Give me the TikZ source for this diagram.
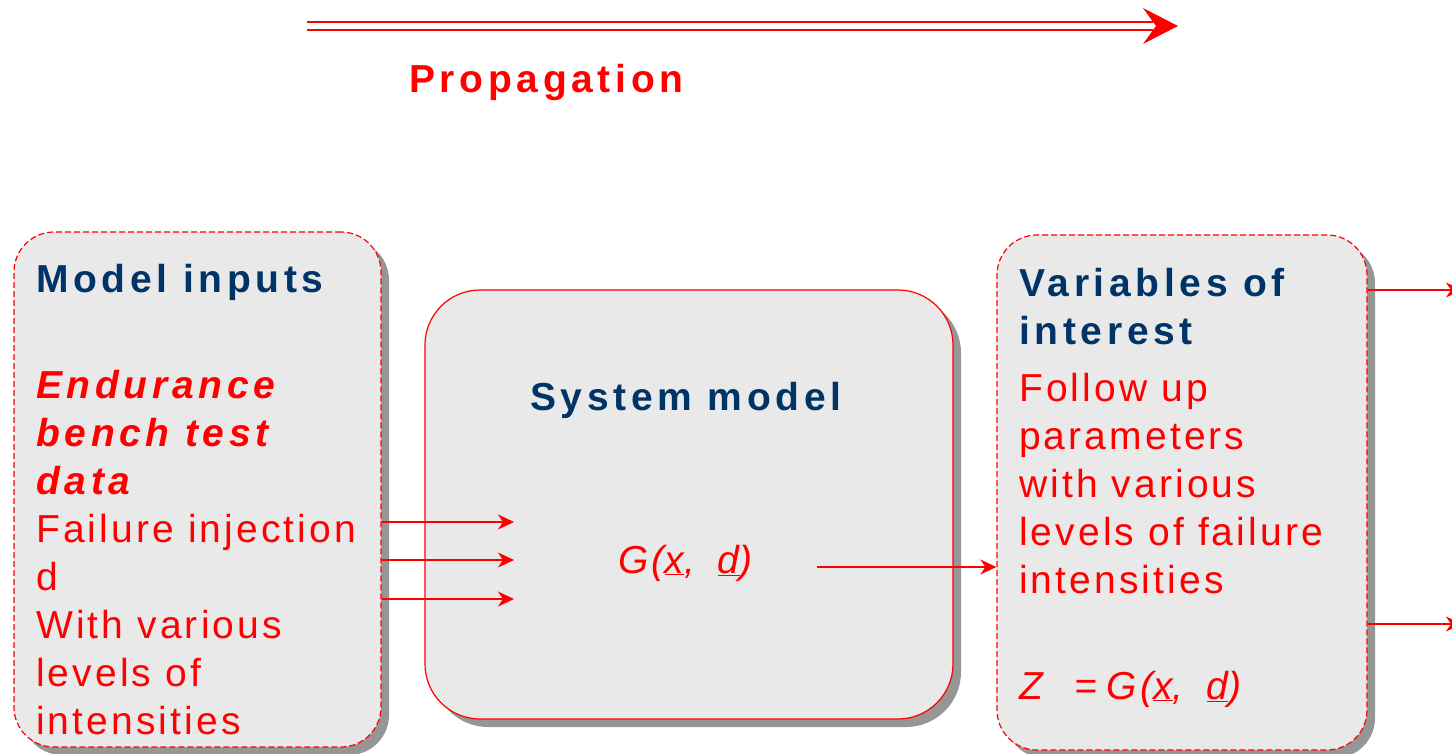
\documentclass[tikz,border=0pt]{standalone}
\usepackage{fontspec}
\setmainfont{Liberation Sans}
\newfontfamily\regls{Liberation Sans}[LetterSpace=8]
\newfontfamily\boldls{Liberation Sans}[LetterSpace=12]
\usetikzlibrary{arrows.meta,shadows}
\definecolor{myred}{RGB}{255,0,0}
\definecolor{navy}{RGB}{0,51,102}
\definecolor{boxgray}{RGB}{233,233,233}
\definecolor{shadowgray}{RGB}{150,150,150}
\newcommand\gxd{G(\underline{x}, \hspace{9pt}\underline{d})}
\begin{document}
\begin{tikzpicture}[x=1pt,y=-1pt,
  box/.style={fill=boxgray, draw=myred, line width=1.2pt, inner sep=0pt,
    drop shadow={shadow xshift=8pt, shadow yshift=-8pt, fill=shadowgray, opacity=1}},
  dbox/.style={box, dash pattern=on 6pt off 3pt},
  txt/.style={inner sep=0pt, anchor=base west, text=myred,
    font=\regls\fontsize{39}{47}\selectfont},
  itx/.style={inner sep=0pt, anchor=base west, text=myred,
    font=\regls\itshape\fontsize{39}{47}\selectfont},
  hdr/.style={inner sep=0pt, anchor=base west, text=navy,
    font=\boldls\bfseries\fontsize{39}{47}\selectfont},
  emp/.style={inner sep=0pt, anchor=base west, text=myred,
    font=\boldls\bfseries\itshape\fontsize{39}{47}\selectfont},
  arr/.style={draw=myred, line width=1.3pt, -{Stealth[length=16pt,width=15pt,inset=5pt]}}
]
\useasboundingbox (0,0) rectangle (1452,754);

% propagation arrow
\coordinate (ps) at (307,26);
\coordinate (pe) at (1153,26);
\draw[myred, double=white, double distance=5.3pt, line width=2.7pt] (ps) -- (pe);
\fill[myred] (1143,8) -- (1178,26) -- (1143,44) -- (1156,26) -- cycle;
\node[emp, font=\boldls\bfseries\fontsize{39}{47}\selectfont] (prop) at (409,93) {Propagation};

% boxes
\node[dbox, rounded corners=40pt, minimum width=367pt, minimum height=515pt] (inbox) at (197.5,489.5) {};
\node[box, rounded corners=55pt, minimum width=528pt, minimum height=429pt] (sbox) at (689,504.5) {};
\node[dbox, rounded corners=40pt, minimum width=370pt, minimum height=515pt] (vbox) at (1182,492.5) {};

% left box text
\node[hdr] (l0) at (36,293) {Model inputs};
\node[emp] (l1) at (36,398) {Endurance};
\node[emp] (l2) at (36,446) {bench test};
\node[emp] (l3) at (36,494) {data};
\node[txt] (l4) at (36,542) {Failure injection};
\node[txt] (l5) at (36,590) {d};
\node[txt] (l6) at (36,638) {With various};
\node[txt] (l7) at (36,686) {levels of};
\node[txt] (l8) at (36,734) {intensities};

% middle box text
\node[hdr] (s0) at (530,410) {System model};
\node[itx] (s1) at (618,573) {\gxd};

% right box text
\node[hdr] (r0) at (1019,297) {Variables of};
\node[hdr] (r1) at (1019,344) {interest};
\node[txt] (r2) at (1019,401) {Follow up};
\node[txt] (r3) at (1019,449) {parameters};
\node[txt] (r4) at (1019,497) {with various};
\node[txt] (r5) at (1019,545) {levels of failure};
\node[txt] (r6) at (1019,593) {intensities};
\node[itx] (r7) at (1019,699) {Z\hspace{31pt}=\hspace{10pt}\gxd};

% connectors
\coordinate (i1) at (514,522);
\coordinate (i2) at (514,560);
\coordinate (i3) at (514,599);
\draw[arr] (inbox.east |- i1) -- (i1);
\draw[arr] (inbox.east |- i2) -- (i2);
\draw[arr] (inbox.east |- i3) -- (i3);
\coordinate (gout) at (817,567);
\draw[arr] (gout) -- (vbox.west |- gout);
\coordinate (o1) at (1462,290);
\coordinate (o2) at (1462,624);
\draw[arr] (vbox.east |- o1) -- (o1);
\draw[arr] (vbox.east |- o2) -- (o2);
\end{tikzpicture}
\end{document}
